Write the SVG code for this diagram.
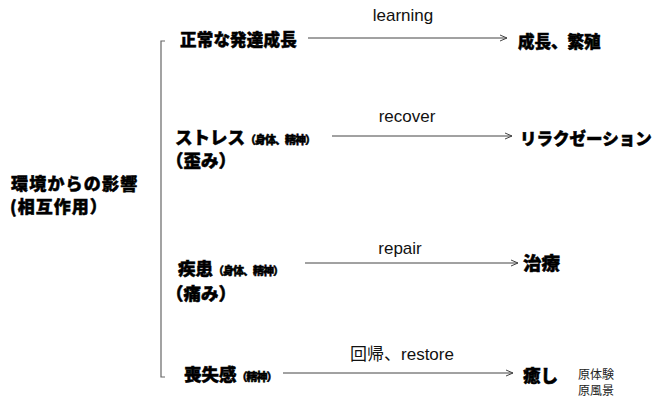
<svg xmlns="http://www.w3.org/2000/svg" width="654" height="399" viewBox="0 0 654 399">
<style>
.jp{font-family:"Noto Sans CJK JP","Noto Sans CJK SC",sans-serif;font-weight:900;fill:#000;stroke:#000;stroke-width:0.5}
.sm{font-size:11px;letter-spacing:-1px}
.en{font-family:"Liberation Sans",Arial,sans-serif;font-size:17px;fill:#111;text-anchor:middle}
.jr{font-family:"Noto Sans CJK JP",sans-serif;font-weight:400;font-size:12px;fill:#222}
.ln{stroke:#444;stroke-width:1;fill:none}
.br{stroke:#666;stroke-width:1.2;fill:none}
</style>
<defs>
<marker id="ah" markerWidth="9" markerHeight="8" refX="8" refY="4" orient="auto" markerUnits="userSpaceOnUse">
<path d="M1,1 L8,4 L1,7" fill="none" stroke="#444" stroke-width="1"/>
</marker>
</defs>
<rect width="654" height="399" fill="#fff"/>
<g id="root">
<text class="jp" x="11" y="190" font-size="17" letter-spacing="1.2">環境からの影響<tspan x="10" dy="23" letter-spacing="1">(相互作用）</tspan></text>
</g>
<g id="bracket">
<path class="br" d="M165,41 L161,41 L161,377 L165,377"/>
</g>
<g id="n1"><text class="jp" x="180" y="45.5" font-size="16.5" letter-spacing="0.2">正常な発達成長</text></g>
<g id="n2">
<text class="jp" x="175" y="143.5" font-size="17.5">ストレス<tspan class="sm">（身体、精神）</tspan><tspan x="166" dy="23">（歪み）</tspan></text>
</g>
<g id="n3">
<text class="jp" x="178" y="274.5" font-size="17.5">疾患<tspan class="sm">（身体、精神）</tspan><tspan x="166" dy="25">（痛み）</tspan></text>
</g>
<g id="n4"><text class="jp" x="184" y="380.5" font-size="17.5">喪失感<tspan class="sm">（精神）</tspan></text></g>
<g id="t1"><text class="jp" x="518" y="48" font-size="16.5">成長、繁殖</text></g>
<g id="t2"><text class="jp" x="520" y="144.5" font-size="16.5">リラクゼーション</text></g>
<g id="t3"><text class="jp" x="523" y="270" font-size="18.5">治療</text></g>
<g id="t4">
<text class="jp" x="523" y="381.5" font-size="17.5">癒し</text>
<text class="jr" x="578" y="378.5">原体験<tspan x="578" dy="16.5">原風景</tspan></text>
</g>
<g id="connectors">
<line class="ln" x1="308" y1="38" x2="507" y2="38" marker-end="url(#ah)"/>
<line class="ln" x1="332" y1="136" x2="512" y2="136" marker-end="url(#ah)"/>
<line class="ln" x1="305" y1="263" x2="518" y2="263" marker-end="url(#ah)"/>
<line class="ln" x1="283" y1="373" x2="513" y2="373" marker-end="url(#ah)"/>
<text class="en" x="403" y="21">learning</text>
<text class="en" x="407" y="122">recover</text>
<text class="en" x="400" y="254">repair</text>
<text class="en" x="402" y="360"><tspan font-family="Noto Sans CJK JP,sans-serif">回帰、</tspan>restore</text>
</g>
</svg>
